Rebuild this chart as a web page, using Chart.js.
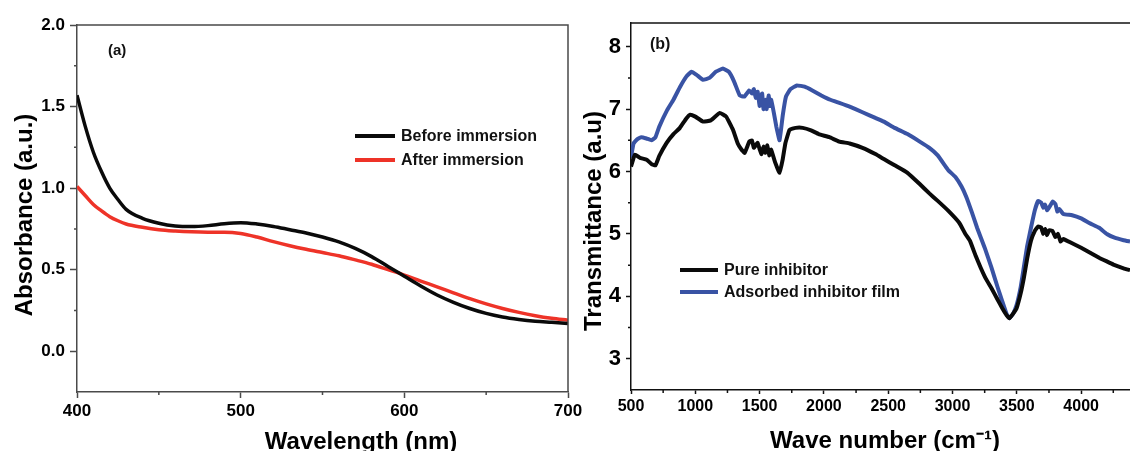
<!DOCTYPE html>
<html>
<head>
<meta charset="utf-8">
<script src="https://cdn.jsdelivr.net/npm/chart.js@4.4.1/dist/chart.umd.min.js"></script>
<style>
  body { margin:0; background:#fff; width:1130px; height:451px; overflow:hidden; position:relative; }
  #chartA { position:absolute; left:0; top:0; }
  #chartB { position:absolute; left:560px; top:0; }
</style>
</head>
<body>
<canvas id="chartA" width="600" height="451"></canvas>
<canvas id="chartB" width="570" height="451"></canvas>
<script>
// (a) UV-vis absorbance
const waveA = [400,405,410,415,420,425,430,440,450,460,470,480,490,500,510,520,530,540,550,560,570,580,590,600,610,620,630,640,650,660,670,680,690,700];
const beforeImm = [1.57,1.38,1.22,1.10,1.00,0.93,0.87,0.815,0.785,0.768,0.764,0.77,0.782,0.788,0.78,0.765,0.745,0.725,0.70,0.67,0.63,0.58,0.52,0.46,0.40,0.345,0.30,0.262,0.232,0.21,0.195,0.184,0.177,0.17];
const afterImm = [1.01,0.955,0.90,0.86,0.825,0.80,0.78,0.76,0.745,0.737,0.732,0.73,0.73,0.722,0.70,0.672,0.647,0.625,0.605,0.585,0.56,0.533,0.50,0.467,0.43,0.395,0.358,0.322,0.29,0.262,0.238,0.218,0.202,0.19];
const xTicksA = [400,500,600,700];
const yTicksA = [0,0.5,1,1.5,2];

// (b) FTIR transmittance
const wnPure = [500,530,570,622,660,690,720,777,830,880,930,960,1000,1060,1120,1190,1240,1293,1330,1360,1384,1420,1440,1455,1470,1485,1500,1515,1530,1545,1560,1575,1590,1620,1655,1680,1700,1733,1780,1835,1900,1960,2043,2120,2200,2300,2400,2466,2550,2650,2745,2820,2885,2968,3052,3100,3136,3180,3219,3260,3303,3350,3387,3420,3442,3470,3498,3530,3554,3580,3610,3640,3666,3690,3705,3720,3735,3750,3777,3800,3820,3840,3861,3930,4000,4070,4140,4200,4251,4330,4380];
const pureInhib = [6.08,6.27,6.22,6.19,6.12,6.10,6.25,6.46,6.60,6.70,6.85,6.91,6.88,6.80,6.82,6.94,6.88,6.67,6.45,6.35,6.30,6.48,6.50,6.38,6.42,6.46,6.36,6.28,6.40,6.30,6.42,6.26,6.35,6.15,5.98,6.20,6.45,6.67,6.70,6.70,6.66,6.60,6.55,6.48,6.45,6.38,6.28,6.20,6.10,5.98,5.80,5.65,5.53,5.37,5.18,5.00,4.89,4.65,4.46,4.28,4.13,3.95,3.81,3.70,3.65,3.72,3.81,4.05,4.29,4.60,4.89,5.05,5.12,5.10,5.00,5.08,4.98,5.06,5.05,4.95,5.00,4.88,4.92,4.85,4.78,4.70,4.62,4.56,4.51,4.45,4.42];
const wnFilm = [500,520,550,580,620,660,690,720,780,830,880,930,970,1010,1060,1110,1160,1215,1260,1300,1345,1380,1420,1440,1455,1470,1485,1500,1510,1520,1530,1545,1555,1570,1580,1590,1610,1630,1655,1680,1705,1740,1790,1850,1910,1980,2050,2120,2200,2300,2400,2466,2550,2650,2745,2820,2885,2940,2968,3024,3070,3108,3150,3191,3250,3303,3350,3387,3420,3442,3470,3498,3530,3554,3580,3610,3640,3666,3690,3705,3720,3735,3750,3780,3800,3815,3830,3861,3930,4000,4070,4140,4200,4260,4330,4380];
const filmInhib = [6.22,6.45,6.52,6.55,6.53,6.50,6.55,6.72,6.98,7.15,7.35,7.52,7.60,7.55,7.47,7.50,7.60,7.65,7.60,7.45,7.22,7.20,7.30,7.25,7.32,7.18,7.28,7.05,7.20,7.25,7.00,7.15,7.00,7.22,7.05,7.15,6.95,6.72,6.50,6.90,7.20,7.32,7.38,7.36,7.30,7.22,7.15,7.10,7.04,6.95,6.86,6.80,6.70,6.60,6.48,6.38,6.26,6.10,6.02,5.91,5.76,5.59,5.35,5.10,4.78,4.46,4.15,3.92,3.72,3.65,3.72,3.86,4.15,4.46,4.80,5.10,5.38,5.53,5.50,5.42,5.47,5.38,5.42,5.52,5.48,5.36,5.40,5.32,5.30,5.25,5.17,5.10,5.00,4.94,4.90,4.88];
const xTicksB = [500,1000,1500,2000,2500,3000,3500,4000];
const yTicksB = [3,4,5,6,7,8];

const FONT = 'Liberation Sans, Arial, sans-serif';

function pts(xs, ys){
  return xs.map((x,i)=>({x:x, y:ys[i]}));
}

// frame, minor ticks, legend, panel label and axis titles
const decor = {
  id: 'decor',
  afterDraw(chart, args, o){
    const {ctx, chartArea:a, scales:{x, y}} = chart;
    ctx.save();
    ctx.strokeStyle = o.color;
    ctx.lineWidth = o.width;
    ctx.beginPath();
    ctx.moveTo(a.left, a.top);
    ctx.lineTo(a.right, a.top);
    if (o.rightEdge) ctx.lineTo(a.right, a.bottom);
    ctx.stroke();

    // minor ticks
    ctx.beginPath();
    for (let v = x.min + o.minorX; v < x.max; v += o.minorX){
      if (Math.abs(v/o.majorX - Math.round(v/o.majorX)) < 1e-6) continue;
      const px = x.getPixelForValue(v);
      ctx.moveTo(px, a.bottom);
      ctx.lineTo(px, a.bottom + o.minorLen);
    }
    for (let v = Math.ceil(y.min/o.minorY)*o.minorY; v < y.max; v += o.minorY){
      if (v <= y.min + 1e-6) continue;
      if (Math.abs(v/o.majorY - Math.round(v/o.majorY)) < 1e-6) continue;
      const py = y.getPixelForValue(v);
      ctx.moveTo(a.left, py);
      ctx.lineTo(a.left - o.minorLen, py);
    }
    ctx.stroke();

    // legend
    ctx.font = 'bold ' + o.legendSize + 'px ' + FONT;
    ctx.textBaseline = 'middle';
    ctx.textAlign = 'left';
    chart.data.datasets.forEach((ds, i) => {
      const ly = o.legendY[i];
      ctx.strokeStyle = ds.borderColor;
      ctx.lineWidth = 4;
      ctx.beginPath();
      ctx.moveTo(o.legendX, ly);
      ctx.lineTo(o.legendX + o.legendLen, ly);
      ctx.stroke();
      ctx.fillStyle = '#111';
      ctx.fillText(ds.label, o.legendX + o.legendLen + 6, ly + 1);
    });

    // panel label
    ctx.font = 'bold ' + o.panelSize + 'px ' + FONT;
    ctx.fillText(o.panel, o.panelX, o.panelY);

    // axis titles
    ctx.font = 'bold 24px ' + FONT;
    ctx.fillStyle = '#000';
    ctx.textAlign = 'center';
    ctx.textBaseline = 'alphabetic';
    ctx.fillText(o.xTitle, o.xTitleX, o.xTitleY);
    ctx.translate(o.yTitleX, o.yTitleY);
    ctx.rotate(-Math.PI/2);
    ctx.textBaseline = 'middle';
    ctx.fillText(o.yTitle, 0, 0);
    ctx.restore();
  }
};

function axis(opts){
  return {
    type: 'linear',
    min: opts.min,
    max: opts.max,
    afterBuildTicks: s => { s.ticks = opts.ticks.map(v => ({value: v})); },
    afterFit: opts.fit,
    border: {display: true, color: opts.color, width: 1.5},
    grid: {display: true, drawOnChartArea: false, drawTicks: true, tickLength: opts.tickLength, tickColor: opts.color, tickWidth: 1.5},
    ticks: {
      color: '#000',
      padding: opts.padding,
      font: {family: FONT, size: opts.fontSize, weight: 'bold'},
      callback: opts.fmt
    }
  };
}

new Chart(document.getElementById('chartA'), {
  type: 'line',
  data: {
    datasets: [
      {label: 'Before immersion', data: pts(waveA, beforeImm), borderColor: '#0a0a0a', borderWidth: 3.5, pointRadius: 0, cubicInterpolationMode: 'monotone'},
      {label: 'After immersion', data: pts(waveA, afterImm), borderColor: '#ee3328', borderWidth: 3.5, pointRadius: 0, cubicInterpolationMode: 'monotone'}
    ]
  },
  options: {
    responsive: false,
    animation: false,
    layout: {padding: {top: 25, right: 32, left: 0, bottom: 0}},
    plugins: {
      legend: {display: false},
      tooltip: {enabled: false},
      decor: {
        color: '#4a4a4a', width: 1.5, rightEdge: true,
        minorX: 50, majorX: 100, minorY: 0.25, majorY: 0.5, minorLen: 3,
        legendX: 355, legendY: [136, 160], legendLen: 40, legendSize: 16,
        panel: '(a)', panelX: 108, panelY: 51, panelSize: 15,
        xTitle: 'Wavelength (nm)', xTitleX: 361, xTitleY: 449,
        yTitle: 'Absorbance (a.u.)', yTitleX: 25, yTitleY: 215
      }
    },
    scales: {
      x: axis({min: 400, max: 700, ticks: xTicksA, color: '#4a4a4a', tickLength: 6, padding: 3, fontSize: 17,
               fit: s => { s.height = 59; }, fmt: v => String(v)}),
      y: axis({min: -0.25, max: 2, ticks: yTicksA, color: '#4a4a4a', tickLength: 7, padding: 5, fontSize: 17,
               fit: s => { s.width = 77; }, fmt: v => v.toFixed(1)})
    }
  },
  plugins: [decor]
});

new Chart(document.getElementById('chartB'), {
  type: 'line',
  data: {
    datasets: [
      {label: 'Pure inhibitor', data: pts(wnPure, pureInhib), borderColor: '#0a0a0a', borderWidth: 4, pointRadius: 0, tension: 0.1},
      {label: 'Adsorbed inhibitor film', data: pts(wnFilm, filmInhib), borderColor: '#3953a4', borderWidth: 4, pointRadius: 0, tension: 0.1}
    ]
  },
  options: {
    responsive: false,
    animation: false,
    layout: {padding: {top: 23, right: 0, left: 0, bottom: 0}},
    plugins: {
      legend: {display: false},
      tooltip: {enabled: false},
      decor: {
        color: '#111', width: 1.5, rightEdge: false,
        minorX: 250, majorX: 500, minorY: 0.5, majorY: 1, minorLen: 3,
        legendX: 120, legendY: [270, 292], legendLen: 38, legendSize: 16,
        panel: '(b)', panelX: 90, panelY: 45, panelSize: 16,
        xTitle: 'Wave number (cm\u207B\u00B9)', xTitleX: 325, xTitleY: 448,
        yTitle: 'Transmittance (a.u)', yTitleX: 34, yTitleY: 221
      }
    },
    scales: {
      x: axis({min: 500, max: 4380, ticks: xTicksB, color: '#111', tickLength: 4, padding: 3, fontSize: 16,
               fit: s => { s.height = 61; }, fmt: v => String(v)}),
      y: axis({min: 2.5, max: 8.38, ticks: yTicksB, color: '#111', tickLength: 5, padding: 5, fontSize: 22,
               fit: s => { s.width = 71; }, fmt: v => String(v)})
    }
  },
  plugins: [decor]
});
</script>
</body>
</html>
